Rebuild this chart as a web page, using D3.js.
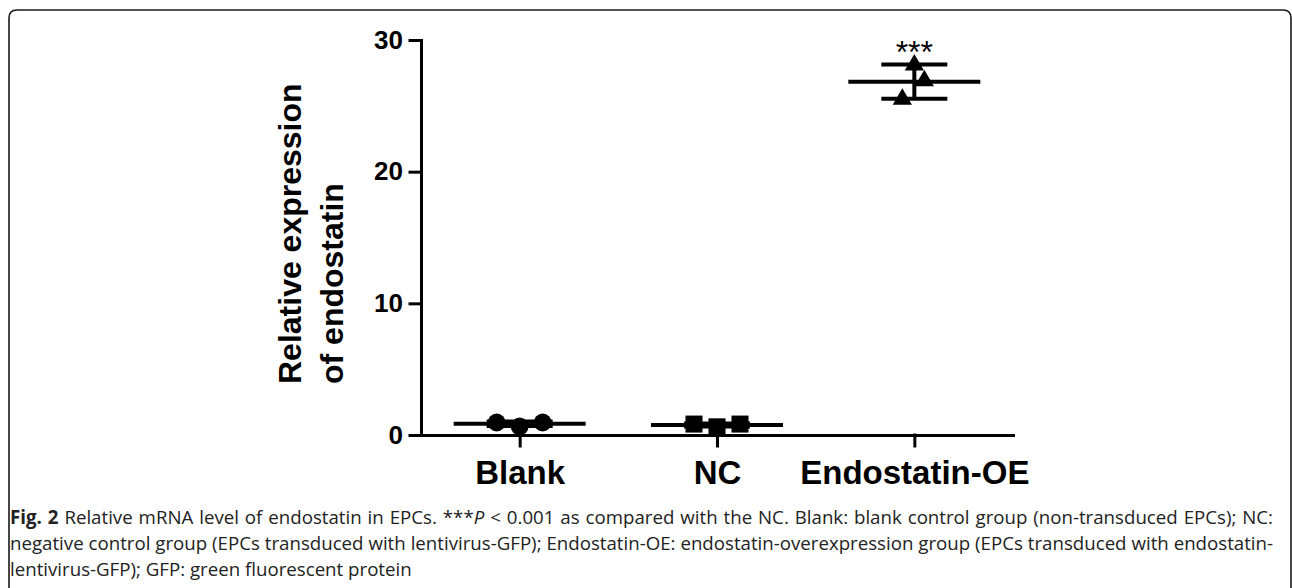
<!DOCTYPE html>
<html lang="en">
  <head>
    <meta charset="UTF-8" />
    <script src="https://cdn.jsdelivr.net/npm/d3@7"></script>
    <style>
      * {
        margin: 0;
        padding: 0;
      }
      body {
        background: #fff;
      }
    </style>
    <title>Relative expression of endostatin</title>
  </head>
  <body>
    <div id="chart"></div>
  </body>
  <script>
    // data
    const categories = ['Blank', 'NC', 'Endostatin-OE'];
    const blankValues = [0.95, 0.65, 0.95];
    const ncValues = [0.83, 0.62, 0.83];
    const oeValues = [28.1, 26.9, 25.5];
    const yTicks = [0, 10, 20, 30];
    const yTitle = ['Relative expression', 'of endostatin'];
    const significance = ['', '', '***'];
    const captionLines = [
      [
        ['Fig. 2', 'bold'],
        [' Relative mRNA level of endostatin in EPCs. ***', ''],
        ['P', 'italic'],
        [
          ' < 0.001 as compared with the NC. Blank: blank control group (non-transduced EPCs); NC:',
          '',
        ],
      ],
      [
        [
          'negative control group (EPCs transduced with lentivirus-GFP); Endostatin-OE: endostatin-overexpression group (EPCs transduced with endostatin-',
          '',
        ],
      ],
      [['lentivirus-GFP); GFP: green fluorescent protein', '']],
    ];

    const width = 1292;
    const height = 588;
    const chartFont = "'Liberation Sans', Arial, Helvetica, sans-serif";
    const captionFont = "'Open Sans', 'Noto Sans', sans-serif";

    const svg = d3
      .select('#chart')
      .append('svg')
      .attr('width', width)
      .attr('height', height);

    // frame round the figure (open at the bottom, cut off by the crop)
    svg
      .append('path')
      .attr('d', 'M9,590V18Q9,10 17,10H1283Q1291,10 1291,18V590')
      .attr('fill', 'none')
      .attr('stroke', '#1a1a1a')
      .attr('stroke-width', 1.6);

    const y = d3.scaleLinear().domain([0, 30]).range([435, 40]);
    const x = d3
      .scalePoint()
      .domain(categories)
      .range([421, 1013])
      .padding(0.5);

    const axisLayer = svg.append('g');
    const pointLayer = svg.append('g');
    const barLayer = svg.append('g');
    const textLayer = svg.append('g');

    // y axis
    const yAxis = axisLayer
      .append('g')
      .attr('transform', `translate(${x.range()[0]},0)`)
      .call(
        d3
          .axisLeft(y)
          .tickValues(yTicks)
          .tickSize(11)
          .tickPadding(7)
          .tickSizeOuter(0)
      );

    // x axis
    const xAxis = axisLayer
      .append('g')
      .attr('transform', `translate(0,${y(0)})`)
      .call(d3.axisBottom(x).tickSize(11).tickPadding(15).tickSizeOuter(0));

    [yAxis, xAxis].forEach((g) => {
      g.selectAll('path, line')
        .attr('stroke', '#000')
        .attr('stroke-width', 3)
        .attr('stroke-linecap', 'square');
      g.selectAll('text')
        .attr('fill', '#000')
        .attr('font-family', chartFont)
        .attr('font-weight', 'bold');
    });
    yAxis.selectAll('text').attr('font-size', 26);
    xAxis.selectAll('text').attr('font-size', 33);

    // y axis title, two lines, start aligned
    textLayer
      .selectAll('text.ytitle')
      .data(yTitle)
      .join('text')
      .attr('class', 'ytitle')
      .attr('transform', (d, i) => `translate(${301 + i * 42},384) rotate(-90)`)
      .attr('text-anchor', 'start')
      .attr('font-family', chartFont)
      .attr('font-weight', 'bold')
      .attr('font-size', 32)
      .attr('fill', '#000')
      .text((d) => d);

    // groups
    const seriesValues = [blankValues, ncValues, oeValues];
    const symbols = [d3.symbolCircle, d3.symbolSquare, d3.symbolTriangle];
    const symbolSizes = [250, 290, 160];
    const jitter = [
      [-23, 0, 23],
      [-23, 0, 23],
      [0, 10, -12],
    ];

    const groups = categories.map((name, i) => {
      const values = seriesValues[i];
      const mean = d3.mean(values);
      const sd = d3.deviation(values);
      return { name, values, mean, sd, idx: i };
    });

    groups.forEach((g) => {
      pointLayer
        .selectAll(`path.pt-${g.idx}`)
        .data(g.values)
        .join('path')
        .attr('class', `pt-${g.idx}`)
        .attr(
          'transform',
          (d, j) => `translate(${x(g.name) + jitter[g.idx][j]},${y(d)})`
        )
        .attr('d', d3.symbol(symbols[g.idx], symbolSizes[g.idx]))
        .attr('fill', '#000');

      const cx = x(g.name);
      const lines = [
        [cx - 66, y(g.mean), cx + 66, y(g.mean)],
        [cx, y(g.mean - g.sd), cx, y(g.mean + g.sd)],
        [cx - 33, y(g.mean + g.sd), cx + 33, y(g.mean + g.sd)],
        [cx - 33, y(g.mean - g.sd), cx + 33, y(g.mean - g.sd)],
      ];
      barLayer
        .selectAll(`line.bar-${g.idx}`)
        .data(lines)
        .join('line')
        .attr('class', `bar-${g.idx}`)
        .attr('x1', (d) => d[0])
        .attr('y1', (d) => d[1])
        .attr('x2', (d) => d[2])
        .attr('y2', (d) => d[3])
        .attr('stroke', '#000')
        .attr('stroke-width', 4);

      if (significance[g.idx]) {
        textLayer
          .append('text')
          .attr('x', cx)
          .attr('y', y(g.mean + g.sd) - 2)
          .attr('text-anchor', 'middle')
          .attr('font-family', chartFont)
          .attr('font-size', 32)
          .attr('fill', '#000')
          .text(significance[g.idx]);
      }
    });

    // caption, first two lines justified
    const captionLeft = 10;
    const captionRight = 1273;
    const captionLayer = svg.append('g');
    const captionTexts = captionLines.map((segs, i) => {
      const t = captionLayer
        .append('text')
        .attr('x', captionLeft)
        .attr('y', 524 + i * 26)
        .attr('font-family', captionFont)
        .attr('font-size', 100)
        .attr('fill', '#222');
      segs.forEach(([str, style]) => {
        t.append('tspan')
          .attr('font-weight', style == 'bold' ? 'bold' : null)
          .attr('font-style', style == 'italic' ? 'italic' : null)
          .text(str);
      });
      return t;
    });
    const target = captionRight - captionLeft;
    const fontSize = d3.min([0, 1], (i) => {
      return (100 * target) / captionTexts[i].node().getComputedTextLength();
    });
    captionTexts.forEach((t) => t.attr('font-size', fontSize));
    [0, 1].forEach((i) => {
      const t = captionTexts[i];
      const spaces = t.text().split(' ').length - 1;
      const gap = target - t.node().getComputedTextLength();
      t.attr('word-spacing', gap / spaces);
    });
  </script>
</html>
